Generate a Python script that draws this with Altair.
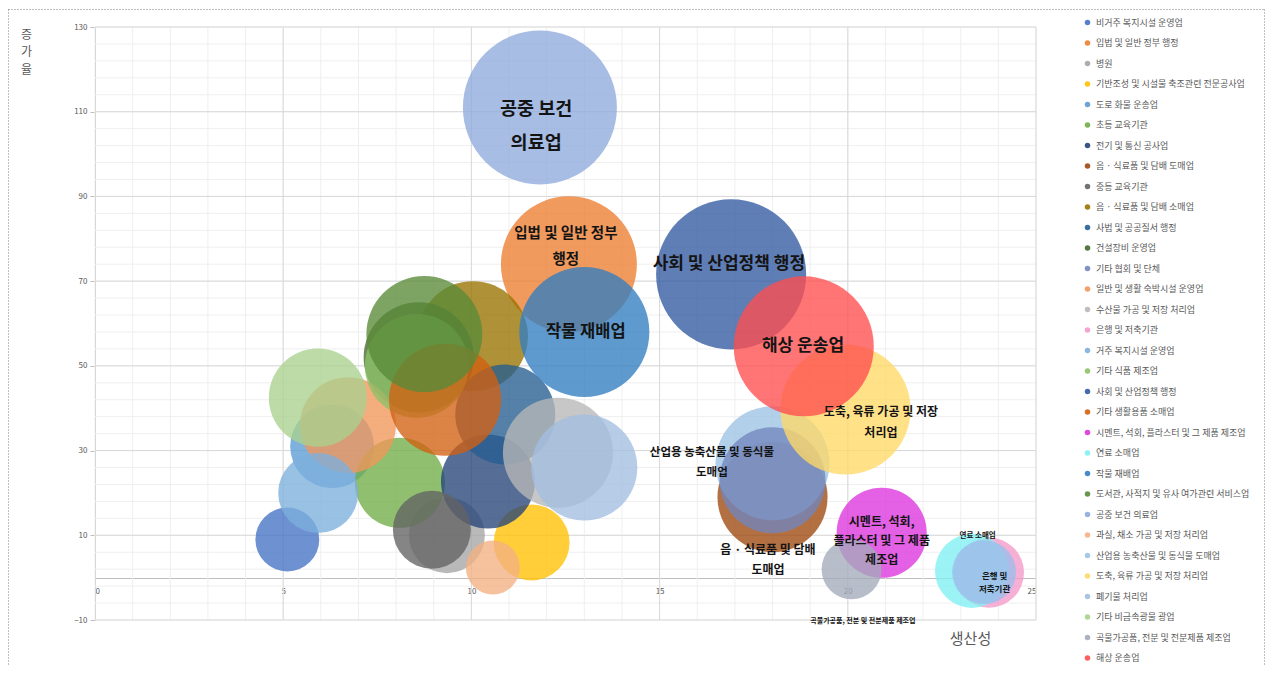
import altair as alt
import pandas as pd

# ---------------- data ----------------
names = [
    "비거주 복지시설 운영업", "입법 및 일반 정부 행정", "병원",
    "기반조성 및 시설물 축조관련 전문공사업", "도로 화물 운송업", "초등 교육기관",
    "전기 및 통신 공사업", "음 · 식료품 및 담배 도매업", "중등 교육기관",
    "음 · 식료품 및 담배 소매업", "사법 및 공공질서 행정", "건설장비 운영업",
    "기타 협회 및 단체", "일반 및 생활 숙박시설 운영업", "수산물 가공 및 저장 처리업",
    "은행 및 저축기관", "거주 복지시설 운영업", "기타 식품 제조업",
    "사회 및 산업정책 행정", "기타 생활용품 소매업", "시멘트, 석회, 플라스터 및 그 제품 제조업",
    "연료 소매업", "작물 재배업", "도서관, 사적지 및 유사 여가관련 서비스업",
    "공중 보건 의료업", "과실, 채소 가공 및 저장 처리업", "산업용 농축산물 및 동식물 도매업",
    "도축, 육류 가공 및 저장 처리업", "폐기물 처리업", "기타 비금속광물 광업",
    "곡물가공품, 전분 및 전분제품 제조업", "해상 운송업",
]
colors = [
    "#4472C4", "#ED7D31", "#A5A5A5", "#FFC000", "#5B9BD5", "#70AD47",
    "#264478", "#9E480E", "#636363", "#997300", "#255E91", "#43682B",
    "#7287BE", "#F1975A", "#B7B7B7", "#F49ACB", "#7CAFDD", "#8CC168",
    "#335AA1", "#D26012", "#DD33DD", "#80F0F4", "#327DC2", "#5A8A39",
    "#8FAADC", "#F4B183", "#9DC3E6", "#FFD966", "#A3BEE0", "#A9D18E",
    "#A4AABB", "#FF4D4D",
]
productivity = [
    5.11, 12.59, 9.35, 11.6, 6.3, 8.1,
    10.44, 18.0, 8.95, 10.04, 10.9, 8.6,
    18.0, 6.72, 12.3, 23.75, 5.93, 8.55,
    16.9, 9.3, 20.9, 23.3, 13.0, 8.75,
    11.82, 10.57, 18.0, 19.94, 13.0, 5.92,
    20.1, 18.83,
]
growth = [
    9.0, 74.0, 10.0, 8.3, 31.0, 22.4,
    22.7, 19.0, 11.3, 57.0, 38.5, 52.0,
    23.0, 36.0, 29.5, 1.2, 20.0, 50.0,
    71.6, 42.0, 10.6, 1.6, 58.0, 57.5,
    111.0, 2.4, 27.0, 39.7, 26.0, 42.5,
    2.0, 54.6,
]
bubble_size = [
    10.2, 46.2, 14.4, 14.4, 17.6, 20.3,
    22.1, 30.3, 15.2, 30.3, 25.0, 30.3,
    28.1, 23.0, 30.3, 12.3, 16.0, 27.0,
    56.3, 31.4, 20.3, 13.7, 42.3, 33.6,
    59.3, 7.3, 32.5, 42.3, 28.1, 24.0,
    9.0, 49.0,
]
# one more series past the end of the (cut-off) legend
extra_names = ["기타"]
extra_colors = ["#9DBDEB"]
extra_productivity = [23.62]
extra_growth = [1.3]
extra_size = [10.2]

label_text = [
    "공중 보건\n의료업", "입법 및 일반 정부\n행정", "사회 및 산업정책 행정", "작물 재배업",
    "해상 운송업", "도축, 육류 가공 및 저장\n처리업", "산업용 농축산물 및 동식물\n도매업",
    "음 · 식료품 및 담배\n도매업", "시멘트, 석회,\n플라스터 및 그 제품\n제조업", "연료 소매업",
    "은행 및\n저축기관", "곡물가공품, 전분 및 전분제품 제조업",
]
label_x = [11.72, 12.51, 16.84, 13.04, 18.81, 20.88, 16.39, 17.88, 20.9, 23.45, 23.9, 20.4]
label_y = [110.7, 81.2, 74.1, 58.1, 54.8, 39.1, 29.5, 6.6, 13.2, 9.9, 0.3, -10.2]
label_size = [18.5, 14.5, 17, 16.5, 17, 12, 11.5, 12, 12, 7.5, 8.5, 7]
label_lh = [34, 26, 20, 20, 20, 21, 20, 20, 19, 10, 13, 9]

x_major = [5, 10, 15, 20, 25]
x_minor = list(range(0, 26))
y_major = list(range(-10, 131, 20))
y_minor = list(range(-10, 131, 4))
x_ticks = [0, 5, 10, 15, 20, 25]
y_ticks = list(range(-10, 131, 20))

# ---------------- chart ----------------
W, H = 941, 593
FONT = "Noto Sans CJK KR"
all_names = names + extra_names
all_colors = colors + extra_colors

# drawing order: series order, but the 기타 협회 bubble sits above 산업용
rank = list(range(len(all_names)))
rank[12], rank[26] = rank[26], rank[12]

df = pd.DataFrame({
    "업종": all_names,
    "생산성": productivity + extra_productivity,
    "증가율": growth + extra_growth,
    "규모": bubble_size + extra_size,
    "순서": rank,
})

xs = alt.Scale(domain=[0, 25], nice=False, zero=False)
ys = alt.Scale(domain=[-10, 130], nice=False, zero=False)

x_axis = alt.Axis(
    values=x_ticks, offset=-42, grid=False, ticks=False, domainColor="#BFBFBF",
    labelFontSize=8, labelColor="#595959", labelPadding=9, labelFont=FONT,
    title="생산성", titleX=875, titleY=60, titleFontSize=15, titleFontWeight="normal",
    titleColor="#595959", titleAlign="center", titleBaseline="middle", titleFont=FONT)
y_axis = alt.Axis(
    values=y_ticks, grid=False, tickSize=5, tickColor="#BFBFBF", domainColor="#BFBFBF",
    labelFontSize=8, labelColor="#595959", labelPadding=3, labelFont=FONT,
    title=["증", "가", "율"], titleAngle=0, titleX=-69, titleY=2, titleAlign="center",
    titleBaseline="top", titleFontSize=12, titleLineHeight=17.5, titleFontWeight="normal",
    titleColor="#595959", titleFont=FONT)

X = lambda: alt.X("생산성:Q", scale=xs, axis=x_axis)
Y = lambda: alt.Y("증가율:Q", scale=ys, axis=y_axis)

grid_xminor = alt.Chart(pd.DataFrame({"생산성": x_minor})).mark_rule(
    color="#EFEFEF", strokeWidth=1).encode(x=X())
grid_yminor = alt.Chart(pd.DataFrame({"증가율": y_minor})).mark_rule(
    color="#EFEFEF", strokeWidth=1).encode(y=Y())
grid_xmajor = alt.Chart(pd.DataFrame({"생산성": x_major})).mark_rule(
    color="#D9D9D9", strokeWidth=1).encode(x=X())
grid_ymajor = alt.Chart(pd.DataFrame({"증가율": y_major})).mark_rule(
    color="#D9D9D9", strokeWidth=1).encode(y=Y())

bubbles = alt.Chart(df).mark_circle(opacity=0.78, strokeWidth=0).encode(
    x=X(),
    y=Y(),
    size=alt.Size("규모:Q", scale=alt.Scale(domain=[0, 100], range=[0, 40000]), legend=None),
    color=alt.Color("업종:N", scale=alt.Scale(domain=all_names, range=all_colors),
                    legend=alt.Legend(
                        values=names, title=None, orient="none", legendX=988, legendY=-9,
                        symbolType="circle", symbolSize=30, symbolStrokeWidth=0, symbolOpacity=0.9,
                        labelFontSize=9, labelColor="#595959", labelFont=FONT, labelOffset=4,
                        rowPadding=10.5, symbolLimit=50, labelLimit=300)),
    order=alt.Order("순서:Q"),
)

ldf = pd.DataFrame({
    "label": label_text, "생산성": label_x, "증가율": label_y,
    "idx": list(range(len(label_text))),
})
label_layers = []
for i in range(len(label_text)):
    label_layers.append(
        alt.Chart(ldf).transform_filter(f"datum.idx == {i}").mark_text(
            fontSize=label_size[i], lineHeight=label_lh[i], lineBreak="\n",
            fontWeight="bold", font=FONT, color="#141414", align="center", baseline="middle",
        ).encode(x=X(), y=Y(), text="label:N")
    )

frame_df = pd.DataFrame({"k": [0]})
frame_top = alt.Chart(frame_df).mark_rule(color="#7F7F7F", strokeDash=[1, 2], strokeWidth=1).encode(
    x=alt.value(-86.5), x2=alt.value(W + 228.5), y=alt.value(-17.5))
frame_left = alt.Chart(frame_df).mark_rule(color="#7F7F7F", strokeDash=[1, 2], strokeWidth=1).encode(
    x=alt.value(-86.5), y=alt.value(-17.5), y2=alt.value(H + 46))
frame_right = alt.Chart(frame_df).mark_rule(color="#7F7F7F", strokeDash=[1, 2], strokeWidth=1).encode(
    x=alt.value(W + 228.5), y=alt.value(-17.5), y2=alt.value(H + 46))

chart = alt.layer(
    grid_xminor, grid_yminor, grid_xmajor, grid_ymajor, bubbles, *label_layers,
    frame_top, frame_left, frame_right,
).properties(
    width=W, height=H,
    padding={"left": 87, "top": 19, "right": 229, "bottom": 46},
    autosize=alt.AutoSizeParams(type="none"),
).configure_view(strokeWidth=0)

chart.save("out.html", embed_options={"renderer": "svg", "actions": False})
